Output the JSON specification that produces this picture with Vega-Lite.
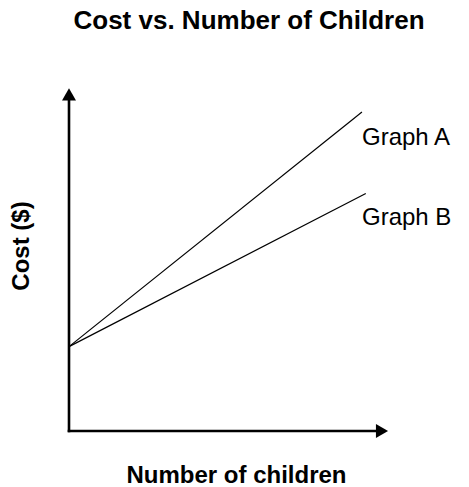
{
  "$schema": "https://vega.github.io/schema/vega-lite/v6.json",
  "width": 334,
  "height": 371,
  "autosize": "none",
  "padding": {"left": 69, "top": 60, "right": 66, "bottom": 56},
  "background": "white",
  "config": {"view": {"stroke": null}, "font": "Liberation Sans"},
  "title": {"text": "Cost vs. Number of Children", "font": "Liberation Sans", "fontSize": 26, "fontWeight": "bold", "anchor": "middle", "offset": 26, "color": "black", "dx": 13},
  "datasets": {
    "axes": [
      {"series": "xaxis", "x": 0, "y": 0},
      {"series": "xaxis", "x": 322, "y": 0},
      {"series": "yaxis", "x": 0, "y": 0},
      {"series": "yaxis", "x": 0, "y": 358}
    ],
    "arrows": [
      {"dir": "x", "x": 328, "y": 0, "shape": "triangle-right"},
      {"dir": "y", "x": 0, "y": 363, "shape": "triangle-up"}
    ],
    "lines": [
      {"graph": "Graph A", "children": 0, "cost": 91},
      {"graph": "Graph A", "children": 307, "cost": 344},
      {"graph": "Graph B", "children": 0, "cost": 91},
      {"graph": "Graph B", "children": 311, "cost": 256}
    ],
    "labels": [
      {"label": "Graph A", "x": 307, "y": 316},
      {"label": "Graph B", "x": 307, "y": 230}
    ]
  },
  "layer": [
    {
      "data": {"name": "axes"},
      "mark": {"type": "line", "color": "black", "strokeWidth": 2.6, "strokeCap": "square"},
      "encoding": {
        "x": {"field": "x", "type": "quantitative", "scale": {"domain": [0, 334]},
              "axis": {"title": "Number of children", "domain": false, "ticks": false, "labels": false, "grid": false,
                       "titleFont": "Liberation Sans", "titleFontSize": 24, "titleFontWeight": "bold", "titleColor": "black", "titlePadding": 32}},
        "y": {"field": "y", "type": "quantitative", "scale": {"domain": [0, 371]},
              "axis": {"title": "Cost ($)", "domain": false, "ticks": false, "labels": false, "grid": false,
                       "titleFont": "Liberation Sans", "titleFontSize": 24, "titleFontWeight": "bold", "titleColor": "black", "titlePadding": 36}},
        "detail": {"field": "series"}
      }
    },
    {
      "data": {"name": "arrows"},
      "mark": {"type": "point", "filled": true, "color": "black", "size": 196, "opacity": 1},
      "encoding": {
        "x": {"field": "x", "type": "quantitative"},
        "y": {"field": "y", "type": "quantitative"},
        "shape": {"field": "shape", "type": "nominal", "scale": null, "legend": null}
      }
    },
    {
      "data": {"name": "lines"},
      "mark": {"type": "line", "color": "black", "strokeWidth": 1.2},
      "encoding": {
        "x": {"field": "children", "type": "quantitative"},
        "y": {"field": "cost", "type": "quantitative"},
        "detail": {"field": "graph"}
      }
    },
    {
      "data": {"name": "labels"},
      "mark": {"type": "text", "align": "left", "baseline": "middle", "font": "Liberation Sans", "fontSize": 24, "color": "black"},
      "encoding": {
        "x": {"field": "x", "type": "quantitative"},
        "y": {"field": "y", "type": "quantitative"},
        "text": {"field": "label"}
      }
    }
  ]
}
